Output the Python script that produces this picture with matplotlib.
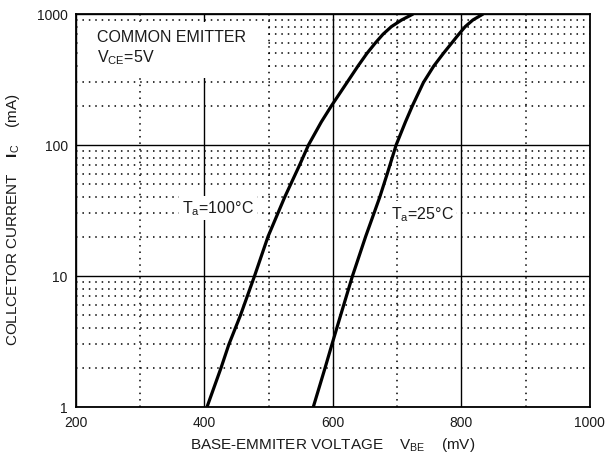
import matplotlib
matplotlib.use("Agg")
import matplotlib.pyplot as plt
from matplotlib.patches import Rectangle
from matplotlib.ticker import LogLocator, NullFormatter, FixedLocator

plt.rcParams['font.family'] = ['Liberation Sans', 'DejaVu Sans']
plt.rcParams['mathtext.fontset'] = 'custom'
plt.rcParams['mathtext.rm'] = 'Liberation Sans'
plt.rcParams['mathtext.it'] = 'Liberation Sans'
plt.rcParams['mathtext.bf'] = 'Liberation Sans:bold'

# courbes
ic_100 = [1, 2, 3, 5, 10, 20, 40, 70, 100, 150, 200, 300, 400, 500, 600, 700, 800, 900, 1000]
vbe_100 = [404, 426, 438, 456, 478, 499, 525, 548, 562, 582, 598, 622, 639, 653, 666, 678, 691, 707, 725]

ic_25 = [1, 2, 3, 5, 10, 20, 40, 60, 100, 150, 200, 300, 400, 500, 600, 700, 800, 900, 1000]
vbe_25 = [569.5, 588, 598.5, 612, 630.5, 651, 673, 684.5, 698.5, 713, 724, 741, 757, 772, 785, 796, 806, 818, 834]

x_ticks = [200, 400, 600, 800, 1000]
x_minor = [300, 500, 700, 900]
y_ticks = [1, 10, 100, 1000]
y_labels = ['1', '10', '100', '1000']

txt = '#1a1a1a'

fig = plt.figure(figsize=(6.08, 4.64), dpi=100)
ax = fig.add_axes([0.125, 0.1207, 0.845, 0.847])

ax.set_yscale('log')
ax.set_xlim(200, 1000)
ax.set_ylim(1, 1000)

ax.xaxis.set_major_locator(FixedLocator(x_ticks))
ax.xaxis.set_minor_locator(FixedLocator(x_minor))
ax.set_xticklabels([str(v) for v in x_ticks])
ax.yaxis.set_major_locator(FixedLocator(y_ticks))
ax.yaxis.set_minor_locator(LogLocator(base=10, subs=range(2, 10)))
ax.yaxis.set_minor_formatter(NullFormatter())
ax.set_yticklabels(y_labels)

ax.set_axisbelow(True)
ax.grid(which='major', color='black', linewidth=1.0, linestyle='-')
ax.grid(which='minor', color='black', linewidth=1.1, linestyle=(0, (1, 3.2)))
ax.tick_params(which='both', length=0, pad=6, labelsize=10, labelcolor=txt)

for s in ax.spines.values():
    s.set_linewidth(1.3)
    s.set_zorder(4)

# zone blanche derrière le texte en haut à gauche
ax.add_patch(Rectangle((0.004, 0.837), 0.366, 0.143, transform=ax.transAxes,
                       facecolor='white', edgecolor='none', zorder=1))

ax.plot(vbe_100, ic_100, color='black', linewidth=2.3, zorder=3,
        solid_joinstyle='round', solid_capstyle='butt')
ax.plot(vbe_25, ic_25, color='black', linewidth=2.3, zorder=3,
        solid_joinstyle='round', solid_capstyle='butt')

ax.text(0.041, 0.931, 'COMMON EMITTER', transform=ax.transAxes, fontsize=11.5,
        color=txt, va='baseline', ha='left', zorder=5)
ax.text(0.041, 0.880, 'V$_{\\rm CE}$=5V', transform=ax.transAxes, fontsize=11.5,
        color=txt, va='baseline', ha='left', zorder=5)

box = dict(facecolor='white', edgecolor='none', pad=2)
ax.text(421, 33, 'T$_{\\rm a}$=100°C', fontsize=11.5, color=txt, ha='center',
        va='center', bbox=box, zorder=5)
ax.text(739, 30, 'T$_{\\rm a}$=25°C', fontsize=11.5, color=txt, ha='center',
        va='center', bbox=box, zorder=5)

ax.set_xlabel('BASE-EMMITER VOLTAGE    V$_{\\rm BE}$    (mV)', fontsize=11, color=txt)
ax.set_ylabel('COLLCETOR CURRENT    $\\mathbf{I}_{\\rm C}$    (mA)', fontsize=11, color=txt)
ax.xaxis.set_label_coords(0.5, -0.072)
ax.yaxis.set_label_coords(-0.105, 0.48)

plt.savefig('out.png', dpi=100)
